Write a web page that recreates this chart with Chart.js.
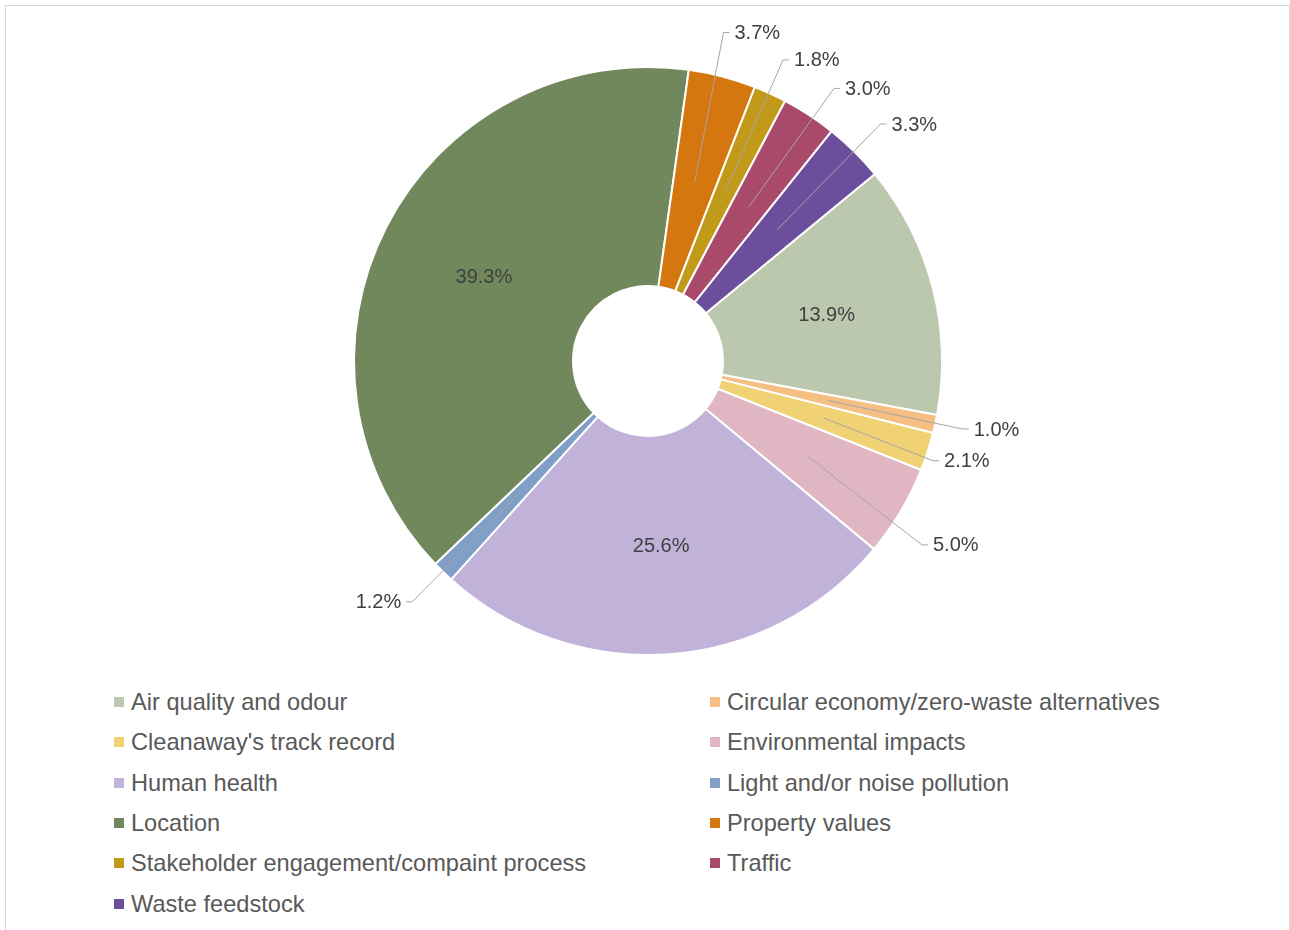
<!DOCTYPE html>
<html>
<head>
<meta charset="utf-8">
<script src="https://cdn.jsdelivr.net/npm/chart.js@4.4.0/dist/chart.umd.min.js"></script>
<style>
  body { margin: 0; background: #fff; font-family: "Liberation Sans", Arial, sans-serif; }
  #wrap { position: relative; width: 1290px; height: 930px; overflow: hidden; }
  #frame { position: absolute; left: 5px; top: 5px; width: 1283px; height: 940px; border: 1px solid #d9d9d9; }
  #pie { position: absolute; left: 0; top: 0; }
  .item { position: absolute; height: 30px; line-height: 30px; font-size: 23.6px; color: #595959; white-space: nowrap; }
  .item i { position: absolute; left: 0; top: 10px; width: 10px; height: 10px; }
  .item span { position: absolute; left: 17px; top: 0; }
</style>
</head>
<body>
<div id="wrap">
  <div id="frame"></div>
  <canvas id="pie" width="1290" height="680"></canvas>
  <div id="legend"></div>
</div>
<script>
const categories = [
  'Air quality and odour',
  'Circular economy/zero-waste alternatives',
  "Cleanaway's track record",
  'Environmental impacts',
  'Human health',
  'Light and/or noise pollution',
  'Location',
  'Property values',
  'Stakeholder engagement/compaint process',
  'Traffic',
  'Waste feedstock'
];
const shares = [13.9, 1.0, 2.1, 5.0, 25.6, 1.2, 39.3, 3.7, 1.8, 3.0, 3.3];
const colours = ['#bcc8ae', '#f5be82', '#f0d274', '#e1b6c3', '#c1b2d9', '#7f9fc6',
                 '#70885b', '#d4770e', '#c29a1a', '#aa4a6a', '#6c4f9c'];

// where each leader line bends: [degrees turned from slice middle, distance from centre]
const leaderBend = {
  1: [-0.2, 322], 2: [1.3, 302], 3: [3.1, 330], 5: [0.2, 337],
  7: [-1.7, 337], 8: [-0.4, 330], 9: [1.1, 330], 10: [-0.1, 332]
};

// percentage labels: big slices inside the ring, the rest on leader lines
const leaderLabels = {
  id: 'leaderLabels',
  afterDatasetsDraw(chart) {
    const ctx = chart.ctx;
    const arcs = chart.getDatasetMeta(0).data;
    ctx.save();
    ctx.font = '20px "Liberation Sans", Arial, sans-serif';
    ctx.fillStyle = '#404040';
    ctx.textBaseline = 'middle';
    arcs.forEach((arc, i) => {
      const mid = (arc.startAngle + arc.endAngle) / 2;
      const rIn = (arc.innerRadius + arc.outerRadius) / 2;
      const ax = arc.x + Math.cos(mid) * rIn;
      const ay = arc.y + Math.sin(mid) * rIn;
      const text = shares[i].toFixed(1) + '%';
      if (!leaderBend[i]) {
        ctx.textAlign = 'center';
        ctx.fillText(text, ax, ay + 1);
        return;
      }
      const [turn, rOut] = leaderBend[i];
      const a = mid + turn * Math.PI / 180;
      const ex = arc.x + Math.cos(a) * rOut;
      const ey = arc.y + Math.sin(a) * rOut;
      const dir = Math.cos(a) >= 0 ? 1 : -1;
      ctx.strokeStyle = '#a6a6a6';
      ctx.lineWidth = 1;
      ctx.beginPath();
      ctx.moveTo(ax, ay);
      ctx.lineTo(ex, ey);
      ctx.lineTo(ex + 6 * dir, ey);
      ctx.stroke();
      ctx.textAlign = dir > 0 ? 'left' : 'right';
      ctx.fillText(text, ex + 11 * dir, ey + 1);
    });
    ctx.restore();
  }
};

new Chart(document.getElementById('pie').getContext('2d'), {
  type: 'doughnut',
  data: {
    labels: categories,
    datasets: [{
      data: shares,
      backgroundColor: colours,
      borderColor: '#ffffff',
      borderWidth: 2,
      hoverOffset: 0
    }]
  },
  options: {
    responsive: false,
    animation: false,
    rotation: 50.5,
    radius: 294,
    cutout: '25.5%',
    layout: { padding: { left: 6, top: 42 } },
    plugins: { legend: { display: false }, tooltip: { enabled: false } }
  },
  plugins: [leaderLabels]
});

// two column legend under the ring
const legend = document.getElementById('legend');
categories.forEach((name, k) => {
  const row = Math.floor(k / 2), col = k % 2;
  const el = document.createElement('div');
  el.className = 'item';
  el.style.left = (col ? 710 : 114) + 'px';
  el.style.top = (702 - 15 + row * 40.3) + 'px';
  el.innerHTML = '<i style="background:' + colours[k] + '"></i><span></span>';
  el.querySelector('span').textContent = name;
  legend.appendChild(el);
});
</script>
</body>
</html>
